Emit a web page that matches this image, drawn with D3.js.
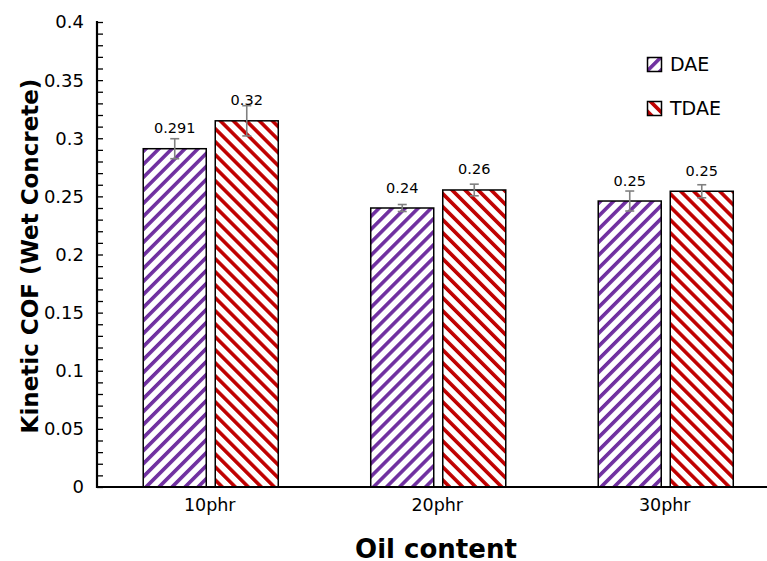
<!DOCTYPE html>
<html>
<head>
<meta charset="utf-8">
<script src="https://cdn.jsdelivr.net/npm/d3@7"></script>
<style>
  html, body { margin: 0; padding: 0; background: #fff; }
  svg { display: block; font-family: "DejaVu Sans", sans-serif; }
</style>
</head>
<body>
<div id="chart"></div>
<script>
const categories = ["10phr", "20phr", "30phr"];
const seriesNames = ["DAE", "TDAE"];
const daeValues = [0.291, 0.240, 0.246];
const tdaeValues = [0.315, 0.2555, 0.2544];
const daeErrors = [0.0086, 0.003, 0.0086];
const tdaeErrors = [0.013, 0.005, 0.0056];
const daeLabels = ["0.291", "0.24", "0.25"];
const tdaeLabels = ["0.32", "0.26", "0.25"];
const yTicks = [0, 0.05, 0.1, 0.15, 0.2, 0.25, 0.3, 0.35, 0.4];

const W = 767, H = 561;
const mLeft = 97, mRight = 779.5, mTop = 22, mBottom = 487;

const svg = d3.select("#chart").append("svg").attr("width", W).attr("height", H);
const defs = svg.append("defs");
const colors = { DAE: "#7030A0", TDAE: "#C00000" };
function pattern(id, color, angle) {
  const p = defs.append("pattern").attr("id", id)
    .attr("patternUnits", "userSpaceOnUse")
    .attr("width", 9.2).attr("height", 9.2)
    .attr("patternTransform", `rotate(${angle})`);
  p.append("rect").attr("width", 9.2).attr("height", 9.2).attr("fill", "#fff");
  p.append("rect").attr("x", 0).attr("y", 0).attr("width", 3.6).attr("height", 9.2).attr("fill", color);
}
pattern("pDAE", colors.DAE, 45);
pattern("pTDAE", colors.TDAE, -45);

const y = d3.scaleLinear().domain([0, 0.4]).range([mBottom, mTop]);
const x0 = d3.scaleBand().domain(categories).range([mLeft, mRight]);
const x1 = d3.scaleBand().domain(seriesNames).range([0, x0.bandwidth()])
  .paddingInner(0.125).paddingOuter(0.642);

const data = categories.map((c, i) => ({
  cat: c,
  items: [
    { s: "DAE", v: daeValues[i], e: daeErrors[i], l: daeLabels[i] },
    { s: "TDAE", v: tdaeValues[i], e: tdaeErrors[i], l: tdaeLabels[i] }
  ]
}));

const g = svg.append("g");
const groups = g.selectAll("g.grp").data(data).join("g")
  .attr("class", "grp")
  .attr("transform", d => `translate(${x0(d.cat)},0)`);

groups.selectAll("rect").data(d => d.items).join("rect")
  .attr("x", d => x1(d.s))
  .attr("y", d => y(d.v))
  .attr("width", x1.bandwidth())
  .attr("height", d => y(0) - y(d.v))
  .attr("fill", d => `url(#p${d.s})`)
  .attr("stroke", "#000").attr("stroke-width", 1.5);

// error bars
groups.selectAll("g.err").data(d => d.items).join("g").attr("class", "err").each(function(d) {
  const cx = x1(d.s) + x1.bandwidth() / 2;
  const sel = d3.select(this);
  sel.append("line").attr("x1", cx).attr("x2", cx).attr("y1", y(d.v + d.e)).attr("y2", y(d.v - d.e))
    .attr("stroke", "#808080").attr("stroke-width", 1.6);
  [d.v + d.e, d.v - d.e].forEach(v => {
    sel.append("line").attr("x1", cx - 4.5).attr("x2", cx + 4.5).attr("y1", y(v)).attr("y2", y(v))
      .attr("stroke", "#808080").attr("stroke-width", 1.6);
  });
});

// value labels
groups.selectAll("text.lbl").data(d => d.items).join("text")
  .attr("class", "lbl")
  .attr("x", d => x1(d.s) + x1.bandwidth() / 2)
  .attr("y", d => y(d.v) - 15.5)
  .attr("text-anchor", "middle")
  .attr("font-size", 14.5).attr("fill", "#000")
  .text(d => d.l);

// y axis
const yAxis = d3.axisRight(y).tickValues(d3.range(0, 0.4001, 0.01)).tickSize(6).tickFormat("");
const ya = svg.append("g").attr("transform", `translate(${mLeft},0)`).call(yAxis);
ya.select(".domain").remove();
ya.selectAll(".tick line").attr("stroke", "#000").attr("stroke-width", 1.3);
svg.append("line").attr("x1", mLeft).attr("x2", mLeft).attr("y1", mTop - 1).attr("y2", mBottom + 1)
  .attr("stroke", "#000").attr("stroke-width", 2.2);

svg.append("g").selectAll("text").data(yTicks).join("text")
  .attr("x", 84).attr("y", d => y(d))
  .attr("dy", "0.36em").attr("text-anchor", "end")
  .attr("font-size", 18).attr("fill", "#000")
  .text(d => String(+d.toFixed(2)));

// x axis
svg.append("line").attr("x1", mLeft - 1).attr("x2", W).attr("y1", mBottom).attr("y2", mBottom)
  .attr("stroke", "#000").attr("stroke-width", 2.2);
svg.append("g").selectAll("text").data(categories).join("text")
  .attr("x", d => x0(d) + x0.bandwidth() / 2 - 1)
  .attr("y", 511).attr("text-anchor", "middle")
  .attr("font-size", 17.5).attr("fill", "#000")
  .text(d => d);

// titles
svg.append("text").attr("x", 436).attr("y", 558)
  .attr("text-anchor", "middle").attr("font-size", 26).attr("font-weight", "bold")
  .text("Oil content");
svg.append("text").attr("transform", `translate(30,256) rotate(-90)`).attr("dy", "0.36em")
  .attr("text-anchor", "middle").attr("font-size", 23).attr("font-weight", "bold")
  .text("Kinetic COF (Wet Concrete)");

// legend
const leg = svg.append("g");
seriesNames.forEach((s, i) => {
  const yy = 64.5 + i * 44;
  leg.append("rect").attr("x", 647.5).attr("y", yy - 7).attr("width", 14).attr("height", 14)
    .attr("fill", `url(#p${s})`).attr("stroke", "#000").attr("stroke-width", 1.5);
  leg.append("text").attr("x", 670).attr("y", yy).attr("dy", "0.36em")
    .attr("font-size", 19).attr("fill", "#000").text(s);
});
</script>
</body>
</html>
